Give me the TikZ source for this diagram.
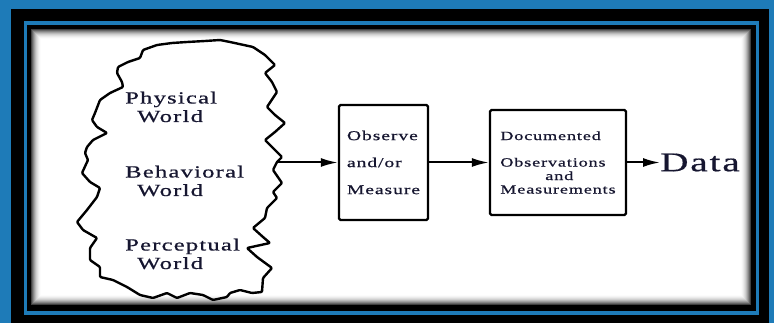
\documentclass[tikz,border=0pt]{standalone}
\usepackage{fontspec}
\setmainfont{Liberation Serif}
\newfontfamily\widefont[FakeStretch=1.45,LetterSpace=7,FakeBold=0.6]{Liberation Serif}
\usetikzlibrary{arrows.meta}
\definecolor{myblue}{RGB}{30,123,184}
\definecolor{myink}{RGB}{22,22,48}
\tikzset{>={Latex[length=17pt,width=9pt]}}
\tikzset{
  stepbox/.style={draw, line width=2.4pt, rounded corners=1.5pt, inner sep=0pt, align=left, text=myink},
  flow/.style={->, line width=2pt},
  worldlabel/.style={anchor=base west, align=left, inner sep=0pt, text=myink, font=\widefont\fontsize{17}{18.5}\selectfont},
}

\begin{document}
\begin{tikzpicture}[x=1pt, y=-1pt]
\useasboundingbox (0,0) rectangle (774,323);

% frame with inner shadow
\fill[myblue] (0,0) rectangle (774,323);
\fill[black] (11,9) rectangle (769,323);
\draw[myblue, line width=3.5pt] (25.5,23) rectangle (757.5,313);
\foreach \i in {0,...,10}{
  \pgfmathtruncatemacro\shade{75*(1-\i/11)^2.2}
  \fill[black!\shade] (31+\i,29+\i) rectangle (751-\i,305-\i);
}

% the world cloud
\draw[line width=2.4pt, line join=round, rounded corners=1pt]
  (143,50) -- (157,45) -- (172,43) -- (187,42) -- (205,41) -- (220,40) -- (230,42)
  -- (253,47) -- (265,55) -- (275,65) -- (265,73) -- (272,82) -- (277,92)
  -- (267,107) -- (275,115) -- (285,123) -- (275,132) -- (265,140) -- (273,148)
  -- (282,157) -- (277,162) -- (273,170) -- (282,183) -- (273,192) -- (277,198)
  -- (267,208) -- (265,218) -- (253,228) -- (263,237) -- (270,243) -- (247,248)
  -- (257,257) -- (272,268) -- (263,278) -- (262,292) -- (252,293) -- (240,290)
  -- (230,293) -- (227,297) -- (213,300) -- (203,295) -- (190,293) -- (177,298)
  -- (167,293) -- (153,298) -- (140,295) -- (127,287) -- (113,280) -- (100,277)
  -- (100,267) -- (90,260) -- (90,248) -- (97,238) -- (83,230) -- (77,222)
  -- (87,210) -- (97,197) -- (100,188) -- (90,182) -- (82,173) -- (88,160)
  -- (85,153) -- (87,147) -- (93,140) -- (107,133) -- (97,127) -- (92,120)
  -- (95,113) -- (100,100) -- (110,93) -- (123,87) -- (122,82) -- (117,73)
  -- (118,67) -- (128,62) -- (140,58) -- cycle;

\node[worldlabel] (physical) at (125,122) {Physical\\\hspace*{12pt}World};
\node[worldlabel] (behavioral) at (125,196) {Behavioral\\\hspace*{12pt}World};
\node[worldlabel] (perceptual) at (125,269) {Perceptual\\\hspace*{12pt}World};
\coordinate (cloud east) at (276,162.5);

% steps
\node[stepbox, minimum width=89pt, minimum height=115pt,
  font=\widefont\fontsize{13.5}{27}\selectfont] (observe) at (383.5,162.5)
  {Observe\\and/or\\Measure};
\node[stepbox, minimum width=136pt, minimum height=105pt,
  font=\widefont\fontsize{12.5}{13.5}\selectfont] (documented) at (558,162.5)
  {Documented\\[13pt]Observations\\\hspace*{45pt}and\\Measurements};
\node[anchor=west, inner sep=0pt, text=myink,
  font=\widefont\fontsize{27}{30}\selectfont] (data) at (660,162.5) {Data};

\draw[flow] (cloud east) -- (observe.west);
\draw[flow] (observe) -- (documented);
\draw[flow] (documented) -- (data);
\end{tikzpicture}
\end{document}
